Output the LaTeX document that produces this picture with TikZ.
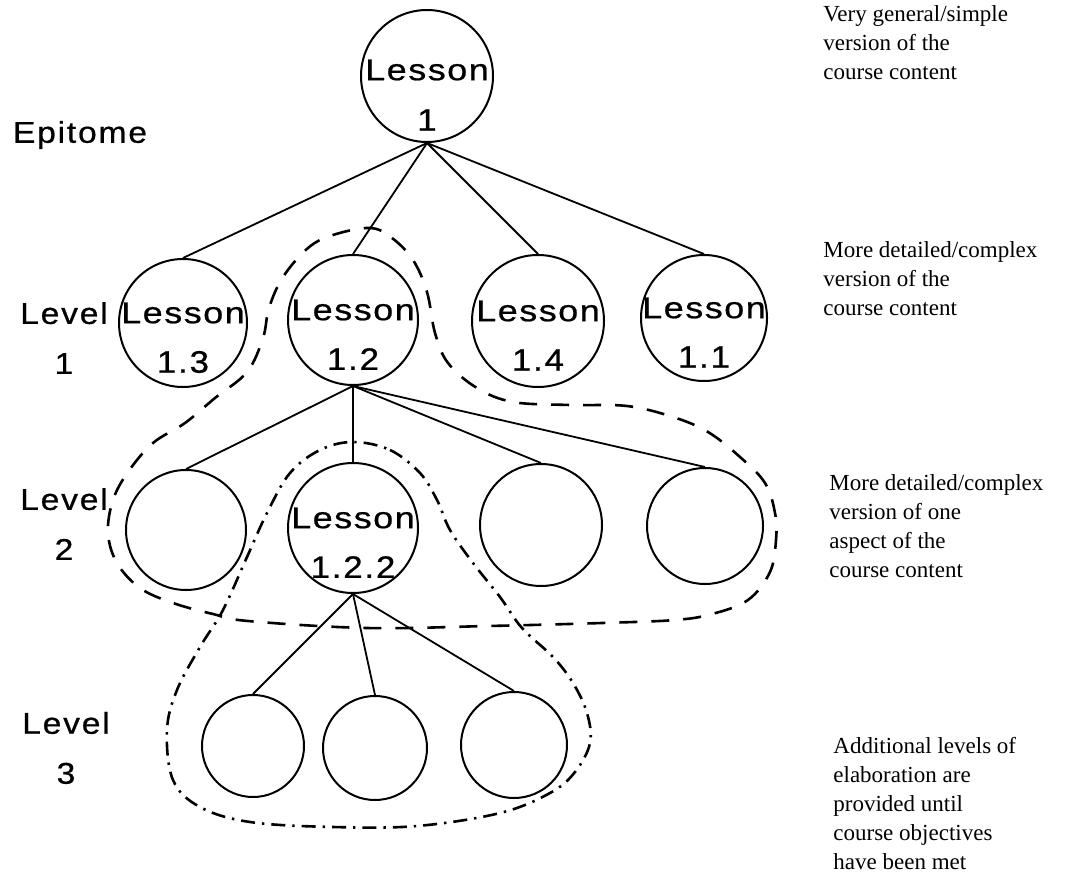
\documentclass[tikz,border=0pt]{standalone}
\usepackage{fontspec}
\setmainfont{Liberation Serif}
\newfontfamily\lsfa[LetterSpace=5,FakeStretch=1.2,FakeBold=0.7]{Liberation Sans}
\newfontfamily\lsfb[LetterSpace=6,FakeStretch=1.12,FakeBold=0.7]{Liberation Sans}
\begin{document}
\begin{tikzpicture}[x=0.5pt,y=-0.5pt,
  lesson/.style={draw, circle, inner sep=0pt, line width=1pt},
  ltext/.style={font=\lsfa\fontsize{15}{17}\selectfont, inner sep=0pt},
  lnum/.style={font=\lsfb\fontsize{15.5}{17}\selectfont, inner sep=0pt},
  lvl/.style={font=\lsfb\fontsize{15}{25}\selectfont, align=center, inner sep=0pt},
  note/.style={font=\fontsize{11.5}{14.5}\selectfont, align=left, anchor=north west, inner sep=0pt},
  conn/.style={line width=0.9pt},
  dashgroup/.style={line width=1.3pt, dash pattern=on 9pt off 7pt},
  dotgroup/.style={line width=1.3pt, dash pattern=on 7pt off 3.5pt on 1.2pt off 3.5pt}]
\useasboundingbox (0,0) rectangle (1080,877);

% Epitome
\node[lesson, minimum size=66pt] (L1) at (427,76) {};
\node[ltext] (L1a) at ([yshift=3pt]L1.center) {Lesson};
\node[lnum] (L1b) at ([yshift=-22pt]L1.center) {1};

% Level 1
\node[lesson, minimum size=64pt] (L13) at (183,323) {};
\node[lesson, minimum size=65pt] (L12) at (353,320) {};
\node[lesson, minimum size=66pt] (L14) at (538,321) {};
\node[lesson, minimum size=63pt] (L11) at (704,318) {};
\foreach \n/\t in {L13/1.3, L12/1.2, L14/1.4, L11/1.1}{
  \node[ltext] (\n a) at ([yshift=5pt]\n.center) {Lesson};
  \node[lnum] (\n b) at ([yshift=-19.5pt]\n.center) {\t};
}

% Level 2
\node[lesson, minimum size=60pt] (A) at (186,530) {};
\node[lesson, minimum size=65pt] (L122) at (353,528) {};
\node[lesson, minimum size=61pt] (C) at (541,525) {};
\node[lesson, minimum size=58pt] (D) at (705,526) {};
\node[ltext] (L122a) at ([yshift=5pt]L122.center) {Lesson};
\node[lnum] (L122b) at ([yshift=-19.5pt]L122.center) {1.2.2};

% Level 3
\node[lesson, minimum size=51pt] (E) at (253,746) {};
\node[lesson, minimum size=52pt] (F) at (375,748) {};
\node[lesson, minimum size=53pt] (G) at (514,745) {};

% connectors
\foreach \c in {L13,L12,L14,L11} \draw[conn] (L1.south) -- (\c.north);
\foreach \c in {A,L122,C,D} \draw[conn] (L12.south) -- (\c.north);
\foreach \c in {E,F,G} \draw[conn] (L122.south) -- (\c.north);

% dashed group
\draw[dashgroup] plot[smooth cycle, tension=0.6] coordinates {
 (370,228) (392,238) (413,260) (427,292) (435,333) (448,363) (477,388) (513,402)
 (570,405) (627,406) (673,417) (708,432) (740,457) (765,483) (775,513) (776,540)
 (770,572) (748,600) (712,614) (675,620) (602,623) (488,626) (367,628) (248,621)
 (213,614) (173,603) (140,588) (117,563) (108,533) (113,500) (128,472) (153,443)
 (185,423) (215,398) (247,372) (263,338) (269,308) (283,277) (308,248) (333,235)};

% dash-dot group
\draw[dotgroup] plot[smooth cycle, tension=0.6] coordinates {
 (353,442) (390,450) (420,473) (437,500) (450,530) (473,563) (500,597) (522,628)
 (553,657) (573,683) (587,713) (590,743) (575,772) (550,793) (500,813) (417,826)
 (333,827) (250,822) (200,807) (173,780) (167,730) (177,690) (200,647) (223,610)
 (247,557) (267,513) (290,473) (320,450)};

% level labels
\node[lvl, font=\lsfb\fontsize{15}{17}\selectfont] (ep) at (80,135) {Epitome};
\node[lvl] (lv1) at (64,338) {Level\\1};
\node[lvl] (lv2) at (64,524) {Level\\2};
\node[lvl] (lv3) at (66,748) {Level\\3};

% notes
\node[note] (n1) at (823,5) {Very general/simple\\version of the\\course content};
\node[note] (n2) at (823,241) {More detailed/complex\\version of the\\course content};
\node[note] (n3) at (829,474) {More detailed/complex\\version of one\\aspect of the\\course content};
\node[note] (n4) at (833,737) {Additional levels of\\elaboration are\\provided until\\course objectives\\have been met};
\end{tikzpicture}
\end{document}
